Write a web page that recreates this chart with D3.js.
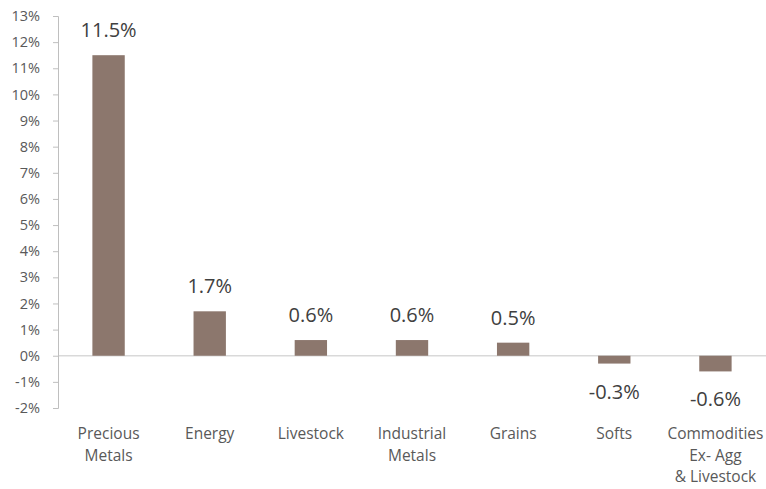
<!DOCTYPE html>
<html><head><meta charset="utf-8">
<script src="https://cdn.jsdelivr.net/npm/d3@7"></script>
<style>body{margin:0;background:#fff}svg{display:block}</style>
</head><body><svg id="c" width="766" height="489"></svg>
<script>
const categories = [["Precious","Metals"],["Energy"],["Livestock"],["Industrial","Metals"],["Grains"],["Softs"],["Commodities","Ex- Agg","& Livestock"]];
const values = [11.5, 1.7, 0.6, 0.6, 0.5, -0.3, -0.6];
const labels = ["11.5%","1.7%","0.6%","0.6%","0.5%","-0.3%","-0.6%"];
const yTicks = [-2,-1,0,1,2,3,4,5,6,7,8,9,10,11,12,13];

const svg = d3.select("#c");
const font = "'Open Sans', sans-serif";
const x = d3.scaleBand().domain(d3.range(values.length)).range([58, 766]).paddingInner(0.68).paddingOuter(0.34);
const y = d3.scaleLinear().domain([-2, 13]).range([408, 16]);

// zero line
svg.append("line").attr("x1", 58).attr("x2", 766).attr("y1", y(0)).attr("y2", y(0))
  .attr("stroke", "#d9d9d9").attr("stroke-width", 1.5);

const ax = svg.append("g").attr("transform", "translate(58,0)")
  .call(d3.axisLeft(y).tickValues(yTicks).tickSize(5).tickPadding(13).tickFormat(d => d + "%"));
ax.select(".domain").attr("stroke", "#bfbfbf");
ax.selectAll(".tick line").attr("stroke", "#bfbfbf");
ax.selectAll("text").attr("font-family", font).attr("font-size", 14.5).attr("fill", "#595959");

svg.selectAll("rect.bar").data(values).join("rect").attr("class", "bar")
  .attr("x", (d, i) => x(i)).attr("width", x.bandwidth())
  .attr("y", d => y(Math.max(0, d))).attr("height", d => Math.abs(y(d) - y(0)))
  .attr("fill", "#8c776d");

svg.selectAll("text.val").data(values).join("text").attr("class", "val")
  .attr("x", (d, i) => x(i) + x.bandwidth() / 2)
  .attr("y", d => d >= 0 ? y(d) - 25 : y(d) + 28)
  .attr("dy", "0.35em").attr("text-anchor", "middle")
  .attr("font-family", font).attr("font-size", 20).attr("fill", "#404040")
  .text((d, i) => labels[i]);

const cat = svg.selectAll("text.cat").data(categories).join("text").attr("class", "cat")
  .attr("text-anchor", "middle").attr("font-family", font).attr("font-size", 15.5).attr("fill", "#595959");
cat.each(function(lines, i) {
  const t = d3.select(this);
  lines.forEach((l, j) => t.append("tspan").attr("x", x(i) + x.bandwidth() / 2).attr("y", 434 + j * 21.5).attr("dy", "0.35em").text(l));
});
</script></body></html>
